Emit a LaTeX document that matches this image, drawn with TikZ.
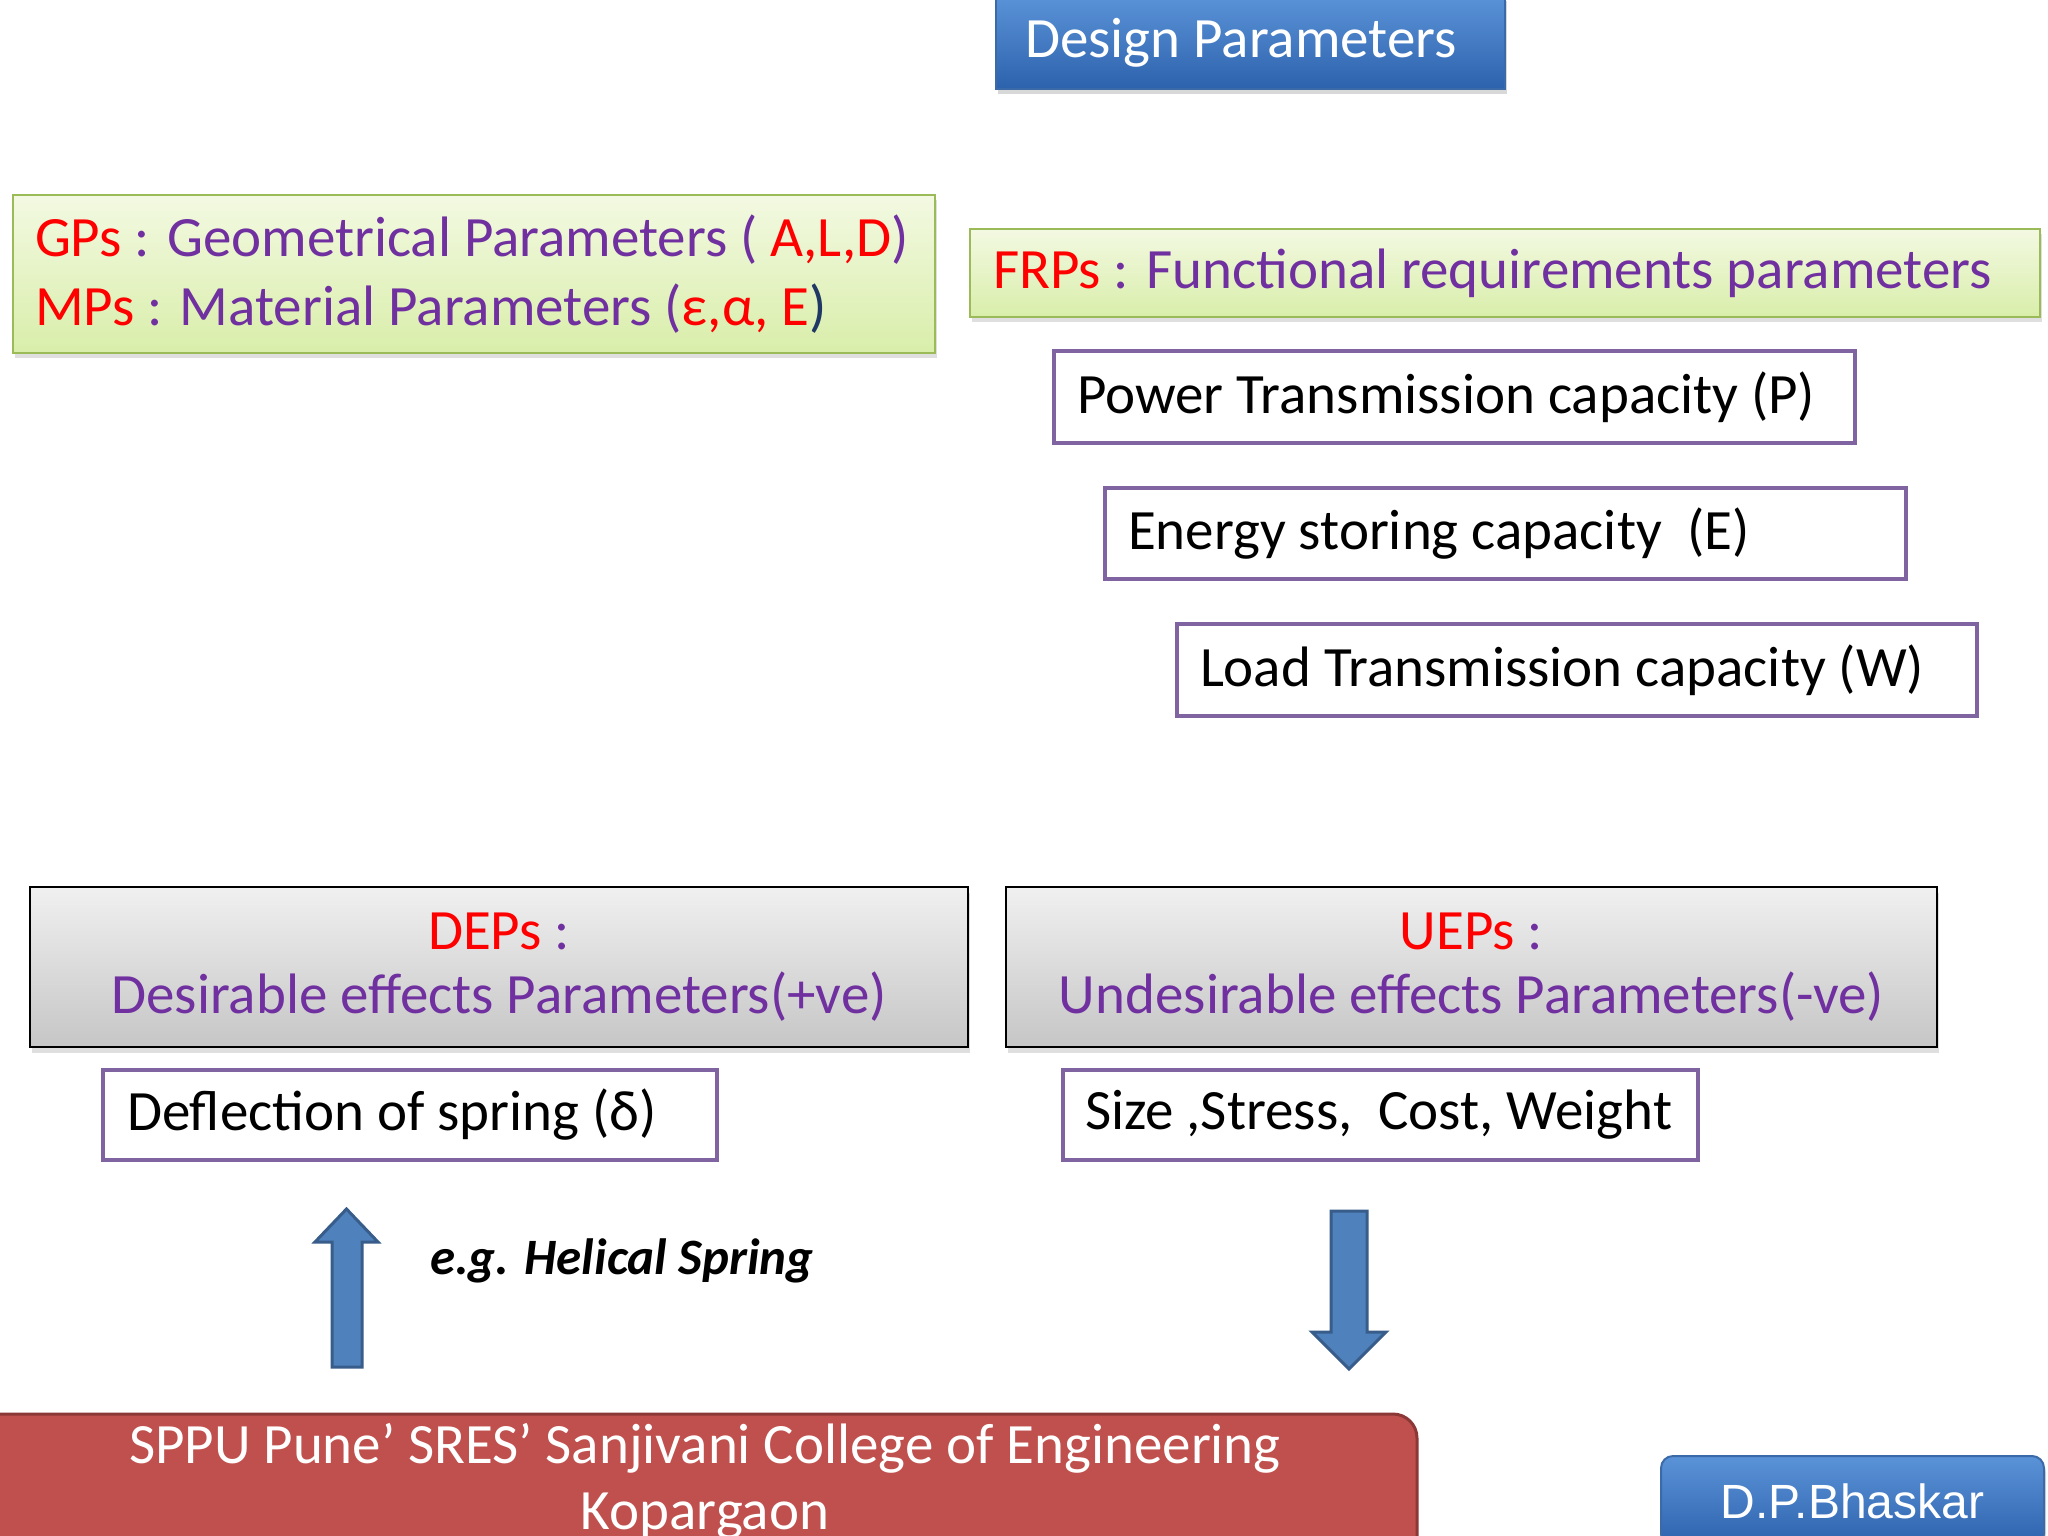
\documentclass[tikz,border=0pt]{standalone}
\usepackage{fontspec}
\setmainfont{Carlito}
\newfontfamily\arialf{Liberation Sans}
\usetikzlibrary{shadows}
\definecolor{dpred}{HTML}{FF0000}
\definecolor{dppurple}{HTML}{7030A0}
\definecolor{boxpurple}{HTML}{8064A2}
\definecolor{dpnavy}{HTML}{1F3864}
\definecolor{grnborder}{HTML}{9BBB59}
\definecolor{grntop}{HTML}{F3F9E2}
\definecolor{grnbot}{HTML}{D9EEAA}
\definecolor{graytop}{HTML}{F0F0F0}
\definecolor{graybot}{HTML}{C6C6C6}
\definecolor{bluetop}{HTML}{5B93D8}
\definecolor{bluebot}{HTML}{2C62AC}
\definecolor{blueborder}{HTML}{3A6AA8}
\definecolor{arrowfill}{HTML}{4F81BD}
\definecolor{arrowdraw}{HTML}{385D8A}
\definecolor{barfill}{HTML}{C0504D}
\definecolor{barborder}{HTML}{8C3836}
\newcommand{\rd}[1]{\textcolor{dpred}{#1}}
\newcommand{\pu}[1]{\textcolor{dppurple}{#1}}
\newcommand{\lbox}[2]{\makebox[#1][l]{#2}}
\begin{document}
\begin{tikzpicture}[x=1pt,y=-1pt,
  mainfont/.style={font=\fontsize{57}{68}\selectfont},
  greenbox/.style={draw=grnborder, line width=2.5pt, top color=grntop, bottom color=grnbot,
     drop shadow={shadow xshift=2pt,shadow yshift=-5pt,opacity=0.25}, inner sep=0pt, mainfont},
  purplebox/.style={draw=boxpurple, line width=4.5pt, fill=white, inner sep=0pt, mainfont, text=black},
  graybox/.style={draw=black, line width=2.5pt, top color=graytop, bottom color=graybot,
     drop shadow={shadow xshift=2pt,shadow yshift=-6pt,opacity=0.25}, inner sep=0pt, mainfont},
  bluebox/.style={draw=blueborder, line width=2pt, top color=bluetop, bottom color=bluebot,
     drop shadow={shadow xshift=2pt,shadow yshift=-5pt,opacity=0.3}, inner sep=0pt, text=white},
  blockarrow/.style={fill=arrowfill, draw=arrowdraw, line width=3pt, line join=miter}
]
\clip (0,0) rectangle (2048,1536);
\fill[white] (0,0) rectangle (2048,1536);

% Title
\node[bluebox, mainfont, minimum width=509pt, minimum height=93pt]
  (title) at (1250.5,42.5) {\raisebox{-6pt}{\lbox{451pt}{Design Parameters}}};

% GPs / MPs
\node[greenbox, minimum width=922pt, minimum height=158pt]
  (gps) at (474,274) {\raisebox{-3pt}{\shortstack[l]{\lbox{878pt}{\rd{GPs} \pu{: Geometrical Parameters (} \rd{A,L,D}\pu{)}}\\[16pt]
  \lbox{878pt}{\rd{MPs} \pu{: Material Parameters (}\rd{ε,α, E}\textcolor{dpnavy}{)}}}}};

% FRPs
\node[greenbox, minimum width=1070pt, minimum height=88pt]
  (frps) at (1505,273) {\lbox{1024pt}{\rd{FRPs} \pu{: Functional requirements parameters}}};

% FRP items
\node[purplebox, minimum width=801pt, minimum height=92pt]
  (power) at (1454.5,397) {\lbox{755pt}{Power Transmission capacity (P)}};
\node[purplebox, minimum width=801pt, minimum height=91pt]
  (energy) at (1505.5,533.5) {\lbox{755pt}{Energy storing capacity~~(E)}};
\node[purplebox, minimum width=800pt, minimum height=92pt]
  (load) at (1577,670) {\lbox{754pt}{Load Transmission capacity (W)}};

% DEPs / UEPs
\node[graybox, minimum width=938pt, minimum height=160pt]
  (deps) at (499,967) {\shortstack{\rd{DEPs} \pu{:}\\[19pt] \pu{Desirable effects Parameters(+ve)}}};
\node[graybox, minimum width=931pt, minimum height=160pt]
  (ueps) at (1471.5,967) {\shortstack{\rd{UEPs} \pu{:}\\[19pt] \pu{Undesirable effects Parameters(-ve)}}};

% effect boxes
\node[purplebox, minimum width=614pt, minimum height=90pt]
  (defl) at (410,1115) {\lbox{566pt}{Deflection of spring (δ)}};
\node[purplebox, minimum width=635pt, minimum height=90pt]
  (size) at (1380.5,1115) {\lbox{591pt}{Size ,Stress,~~Cost, Weight}};

% block arrows
\draw[blockarrow] (332,1367) -- (332,1242) -- (315,1242) -- (346.5,1209) -- (378,1242) -- (362,1242) -- (362,1367) -- cycle;
\draw[blockarrow] (1331,1211) -- (1367,1211) -- (1367,1332) -- (1386,1332) -- (1349,1369) -- (1312,1332) -- (1331,1332) -- cycle;

\node[font=\fontsize{51}{58}\selectfont\bfseries\itshape, anchor=west, inner sep=0pt]
  (eg) at (430,1261) {e.g. Helical Spring};

% bottom bar
\draw[fill=barfill, draw=barborder, line width=3pt, rounded corners=24pt]
  (-40,1560) -- (-40,1414) -- (1417,1414) -- (1417,1560);
\node[mainfont, text=white, inner sep=0pt]
  (college) at (705,1481) {\shortstack{SPPU Pune’ SRES’ Sanjivani College of Engineering\\[17pt]Kopargaon}};

% author badge
\node[bluebox, rounded corners=12pt, minimum width=383pt, minimum height=90pt,
  font=\arialf\fontsize{48}{54}\selectfont]
  (author) at (1852.5,1501) {D.P.Bhaskar};
\end{tikzpicture}
\end{document}
